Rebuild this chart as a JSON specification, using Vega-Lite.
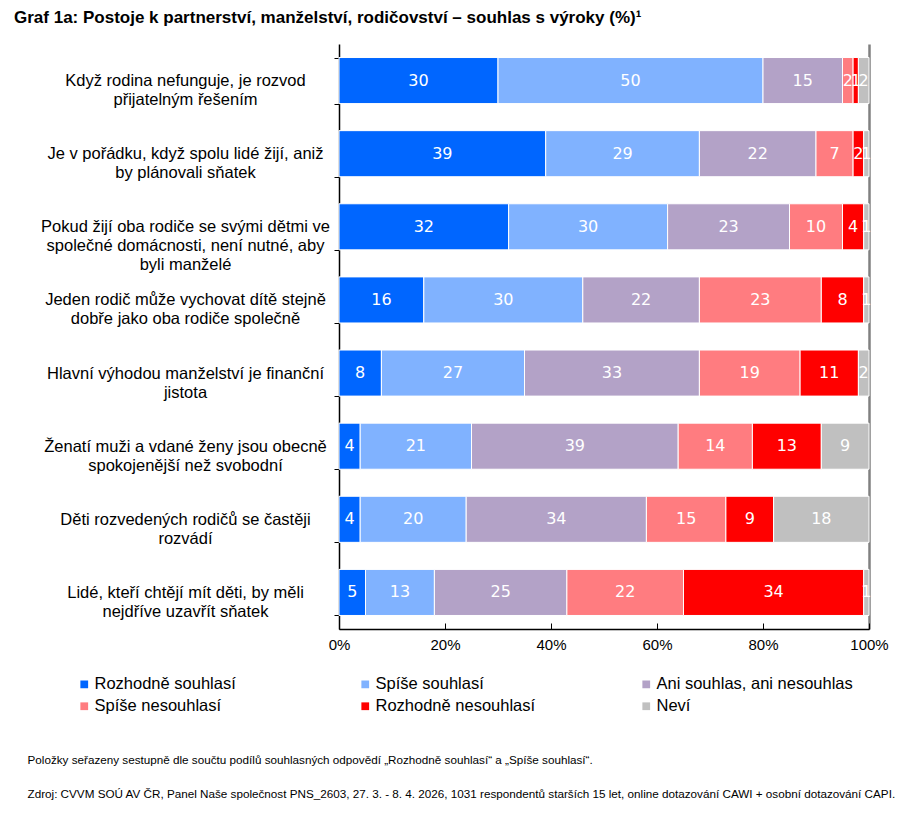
{
  "$schema": "https://vega.github.io/schema/vega-lite/v6.json",
  "width": 530,
  "height": 585,
  "autosize": "none",
  "padding": {"left": 339, "top": 44, "right": 43, "bottom": 185},
  "background": "white",
  "title": {
    "text": "Graf 1a: Postoje k partnerství, manželství, rodičovství – souhlas s výroky (%)¹",
    "anchor": "start",
    "frame": "group",
    "dx": -325,
    "dy": 24,
    "font": "Liberation Sans",
    "fontSize": 17,
    "fontWeight": "bold",
    "color": "black",
    "baseline": "alphabetic",
    "offset": 20
  },
  "config": {
    "view": {"stroke": null},
    "font": "Liberation Sans"
  },
  "data": {
    "values": [
      {"item": "Když rodina nefunguje, je rozvod\npřijatelným řešením", "cat": "Rozhodně souhlasí", "k": 1, "value": 30},
      {"item": "Když rodina nefunguje, je rozvod\npřijatelným řešením", "cat": "Spíše souhlasí", "k": 2, "value": 50},
      {"item": "Když rodina nefunguje, je rozvod\npřijatelným řešením", "cat": "Ani souhlas, ani nesouhlas", "k": 3, "value": 15},
      {"item": "Když rodina nefunguje, je rozvod\npřijatelným řešením", "cat": "Spíše nesouhlasí", "k": 4, "value": 2},
      {"item": "Když rodina nefunguje, je rozvod\npřijatelným řešením", "cat": "Rozhodně nesouhlasí", "k": 5, "value": 1},
      {"item": "Když rodina nefunguje, je rozvod\npřijatelným řešením", "cat": "Neví", "k": 6, "value": 2},

      {"item": "Je v pořádku, když spolu lidé žijí, aniž\nby plánovali sňatek", "cat": "Rozhodně souhlasí", "k": 1, "value": 39},
      {"item": "Je v pořádku, když spolu lidé žijí, aniž\nby plánovali sňatek", "cat": "Spíše souhlasí", "k": 2, "value": 29},
      {"item": "Je v pořádku, když spolu lidé žijí, aniž\nby plánovali sňatek", "cat": "Ani souhlas, ani nesouhlas", "k": 3, "value": 22},
      {"item": "Je v pořádku, když spolu lidé žijí, aniž\nby plánovali sňatek", "cat": "Spíše nesouhlasí", "k": 4, "value": 7},
      {"item": "Je v pořádku, když spolu lidé žijí, aniž\nby plánovali sňatek", "cat": "Rozhodně nesouhlasí", "k": 5, "value": 2},
      {"item": "Je v pořádku, když spolu lidé žijí, aniž\nby plánovali sňatek", "cat": "Neví", "k": 6, "value": 1},

      {"item": "Pokud žijí oba rodiče se svými dětmi ve\nspolečné domácnosti, není nutné, aby\nbyli manželé", "cat": "Rozhodně souhlasí", "k": 1, "value": 32},
      {"item": "Pokud žijí oba rodiče se svými dětmi ve\nspolečné domácnosti, není nutné, aby\nbyli manželé", "cat": "Spíše souhlasí", "k": 2, "value": 30},
      {"item": "Pokud žijí oba rodiče se svými dětmi ve\nspolečné domácnosti, není nutné, aby\nbyli manželé", "cat": "Ani souhlas, ani nesouhlas", "k": 3, "value": 23},
      {"item": "Pokud žijí oba rodiče se svými dětmi ve\nspolečné domácnosti, není nutné, aby\nbyli manželé", "cat": "Spíše nesouhlasí", "k": 4, "value": 10},
      {"item": "Pokud žijí oba rodiče se svými dětmi ve\nspolečné domácnosti, není nutné, aby\nbyli manželé", "cat": "Rozhodně nesouhlasí", "k": 5, "value": 4},
      {"item": "Pokud žijí oba rodiče se svými dětmi ve\nspolečné domácnosti, není nutné, aby\nbyli manželé", "cat": "Neví", "k": 6, "value": 1},

      {"item": "Jeden rodič může vychovat dítě stejně\ndobře jako oba rodiče společně", "cat": "Rozhodně souhlasí", "k": 1, "value": 16},
      {"item": "Jeden rodič může vychovat dítě stejně\ndobře jako oba rodiče společně", "cat": "Spíše souhlasí", "k": 2, "value": 30},
      {"item": "Jeden rodič může vychovat dítě stejně\ndobře jako oba rodiče společně", "cat": "Ani souhlas, ani nesouhlas", "k": 3, "value": 22},
      {"item": "Jeden rodič může vychovat dítě stejně\ndobře jako oba rodiče společně", "cat": "Spíše nesouhlasí", "k": 4, "value": 23},
      {"item": "Jeden rodič může vychovat dítě stejně\ndobře jako oba rodiče společně", "cat": "Rozhodně nesouhlasí", "k": 5, "value": 8},
      {"item": "Jeden rodič může vychovat dítě stejně\ndobře jako oba rodiče společně", "cat": "Neví", "k": 6, "value": 1},

      {"item": "Hlavní výhodou manželství je finanční\njistota", "cat": "Rozhodně souhlasí", "k": 1, "value": 8},
      {"item": "Hlavní výhodou manželství je finanční\njistota", "cat": "Spíše souhlasí", "k": 2, "value": 27},
      {"item": "Hlavní výhodou manželství je finanční\njistota", "cat": "Ani souhlas, ani nesouhlas", "k": 3, "value": 33},
      {"item": "Hlavní výhodou manželství je finanční\njistota", "cat": "Spíše nesouhlasí", "k": 4, "value": 19},
      {"item": "Hlavní výhodou manželství je finanční\njistota", "cat": "Rozhodně nesouhlasí", "k": 5, "value": 11},
      {"item": "Hlavní výhodou manželství je finanční\njistota", "cat": "Neví", "k": 6, "value": 2},

      {"item": "Ženatí muži a vdané ženy jsou obecně\nspokojenější než svobodní", "cat": "Rozhodně souhlasí", "k": 1, "value": 4},
      {"item": "Ženatí muži a vdané ženy jsou obecně\nspokojenější než svobodní", "cat": "Spíše souhlasí", "k": 2, "value": 21},
      {"item": "Ženatí muži a vdané ženy jsou obecně\nspokojenější než svobodní", "cat": "Ani souhlas, ani nesouhlas", "k": 3, "value": 39},
      {"item": "Ženatí muži a vdané ženy jsou obecně\nspokojenější než svobodní", "cat": "Spíše nesouhlasí", "k": 4, "value": 14},
      {"item": "Ženatí muži a vdané ženy jsou obecně\nspokojenější než svobodní", "cat": "Rozhodně nesouhlasí", "k": 5, "value": 13},
      {"item": "Ženatí muži a vdané ženy jsou obecně\nspokojenější než svobodní", "cat": "Neví", "k": 6, "value": 9},

      {"item": "Děti rozvedených rodičů se častěji\nrozvádí", "cat": "Rozhodně souhlasí", "k": 1, "value": 4},
      {"item": "Děti rozvedených rodičů se častěji\nrozvádí", "cat": "Spíše souhlasí", "k": 2, "value": 20},
      {"item": "Děti rozvedených rodičů se častěji\nrozvádí", "cat": "Ani souhlas, ani nesouhlas", "k": 3, "value": 34},
      {"item": "Děti rozvedených rodičů se častěji\nrozvádí", "cat": "Spíše nesouhlasí", "k": 4, "value": 15},
      {"item": "Děti rozvedených rodičů se častěji\nrozvádí", "cat": "Rozhodně nesouhlasí", "k": 5, "value": 9},
      {"item": "Děti rozvedených rodičů se častěji\nrozvádí", "cat": "Neví", "k": 6, "value": 18},

      {"item": "Lidé, kteří chtějí mít děti, by měli\nnejdříve uzavřít sňatek", "cat": "Rozhodně souhlasí", "k": 1, "value": 5},
      {"item": "Lidé, kteří chtějí mít děti, by měli\nnejdříve uzavřít sňatek", "cat": "Spíše souhlasí", "k": 2, "value": 13},
      {"item": "Lidé, kteří chtějí mít děti, by měli\nnejdříve uzavřít sňatek", "cat": "Ani souhlas, ani nesouhlas", "k": 3, "value": 25},
      {"item": "Lidé, kteří chtějí mít děti, by měli\nnejdříve uzavřít sňatek", "cat": "Spíše nesouhlasí", "k": 4, "value": 22},
      {"item": "Lidé, kteří chtějí mít děti, by měli\nnejdříve uzavřít sňatek", "cat": "Rozhodně nesouhlasí", "k": 5, "value": 34},
      {"item": "Lidé, kteří chtějí mít děti, by měli\nnejdříve uzavřít sňatek", "cat": "Neví", "k": 6, "value": 1}
    ]
  },
  "encoding": {
    "y": {
      "field": "item",
      "type": "nominal",
      "sort": null,
      "scale": {"paddingInner": 0.37, "paddingOuter": 0.185},
      "axis": {
        "title": null,
        "labelExpr": "datum.value ? split(datum.value, '\\n') : ''",
        "labelAlign": "center",
        "labelBaseline": "middle",
        "labelPadding": 149,
        "labelFont": "Liberation Sans",
        "labelFontSize": 16.5,
        "labelColor": "black",
        "labelLineHeight": 19,
        "labelLimit": 400,
        "tickBand": "extent",
        "tickSize": 5,
        "tickColor": "black",
        "domainColor": "black",
        "domainWidth": 1.5,
        "grid": false
      }
    },
    "x": {
      "field": "value",
      "type": "quantitative",
      "stack": "zero",
      "scale": {"domain": [0, 100], "nice": false},
      "axis": {
        "values": [0, 20, 40, 60, 80, 100],
        "labelExpr": "datum.value + '%'",
        "labelFlush": false,
        "labelFont": "Liberation Sans",
        "labelFontSize": 15,
        "labelColor": "black",
        "labelPadding": 14,
        "tickSize": -6,
        "tickColor": "black",
        "domainColor": "black",
        "domainWidth": 1.5,
        "grid": true,
        "gridColor": "#808080",
        "gridWidth": 2.5,
        "gridOpacity": {"condition": {"test": "datum.value === 100", "value": 1}, "value": 0},
        "title": [
          "Položky seřazeny sestupně dle součtu podílů souhlasných odpovědí „Rozhodně souhlasí“ a „Spíše souhlasí“.",
          "Zdroj: CVVM SOÚ AV ČR, Panel Naše společnost PNS_2603, 27. 3. - 8. 4. 2026, 1031 respondentů starších 15 let, online dotazování CAWI + osobní dotazování CAPI."
        ],
        "titleFont": "Liberation Sans",
        "titleFontSize": 11.7,
        "titleFontWeight": "normal",
        "titleColor": "black",
        "titleAnchor": "start",
        "titleAlign": "left",
        "titleBaseline": "alphabetic",
        "titleLineHeight": 34,
        "titleX": -312,
        "titleY": 134
      }
    },
    "order": {"field": "k", "type": "quantitative"}
  },
  "layer": [
    {
      "mark": {"type": "bar", "stroke": "white", "strokeWidth": 1},
      "encoding": {
        "color": {
          "field": "cat",
          "type": "nominal",
          "sort": ["Rozhodně souhlasí", "Spíše souhlasí", "Ani souhlas, ani nesouhlas", "Spíše nesouhlasí", "Rozhodně nesouhlasí", "Neví"],
          "scale": {
            "domain": ["Rozhodně souhlasí", "Spíše souhlasí", "Ani souhlas, ani nesouhlas", "Spíše nesouhlasí", "Rozhodně nesouhlasí", "Neví"],
            "range": ["#0066FF", "#80B2FF", "#B3A2C7", "#FF7C80", "#FF0000", "#C0C0C0"]
          },
          "legend": {
            "title": null,
            "orient": "none",
            "legendX": -263,
            "legendY": 632,
            "direction": "horizontal",
            "columns": 3,
            "gridAlign": "all",
            "columnPadding": 66,
            "rowPadding": 5,
            "padding": 0,
            "symbolType": "square",
            "symbolSize": 60,
            "symbolStrokeWidth": 0,
            "labelFont": "Liberation Sans",
            "labelFontSize": 16.5,
            "labelColor": "black",
            "labelOffset": 2,
            "labelLimit": 300
          }
        }
      }
    },
    {
      "mark": {"type": "text", "color": "white", "font": "DejaVu Sans", "fontSize": 16, "baseline": "middle", "align": "center"},
      "encoding": {
        "x": {"field": "value", "type": "quantitative", "stack": "zero", "bandPosition": 0.5},
        "detail": {"field": "cat", "type": "nominal"},
        "text": {"field": "value", "type": "quantitative"}
      }
    }
  ]
}
